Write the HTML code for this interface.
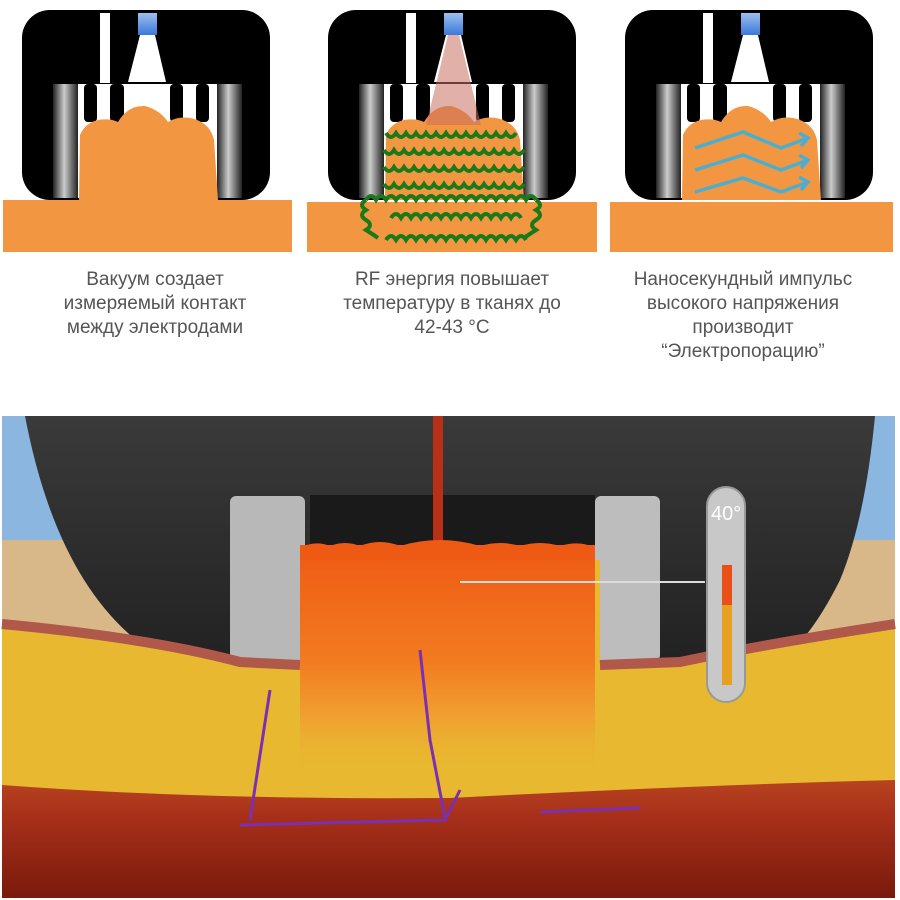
<!DOCTYPE html>
<html><head><meta charset="utf-8"><style>
html,body{margin:0;padding:0;background:#fff;width:900px;height:900px;overflow:hidden}
.cap{position:absolute;width:300px;text-align:center;font-family:"Liberation Sans",sans-serif;font-size:19px;line-height:24px;color:#555}
</style></head><body>
<svg width="900" height="900" style="position:absolute;left:0;top:0">
<defs>
<linearGradient id="el" x1="0" x2="1"><stop offset="0" stop-color="#222"/><stop offset=".45" stop-color="#ccc"/><stop offset="1" stop-color="#222"/></linearGradient>
<linearGradient id="bl" x1="0" y1="0" x2="0" y2="1"><stop offset="0" stop-color="#9cc0f0"/><stop offset="1" stop-color="#3a78d8"/></linearGradient>
<linearGradient id="col" x1="0" y1="0" x2="0" y2="1"><stop offset="0" stop-color="#ee5a14"/><stop offset=".5" stop-color="#f27a20"/><stop offset=".75" stop-color="#f0a030"/><stop offset="1" stop-color="#e8b830" stop-opacity="0"/></linearGradient>
<linearGradient id="mus" x1="0" y1="0" x2="0" y2="1"><stop offset="0" stop-color="#b84420"/><stop offset=".3" stop-color="#a8301a"/><stop offset="1" stop-color="#7a1a0c"/></linearGradient>
<linearGradient id="dark" x1="0" y1="0" x2="0" y2="1"><stop offset="0" stop-color="#3a3a3a"/><stop offset="1" stop-color="#222"/></linearGradient>
<g id="dev">
<rect x="22" y="10" width="248" height="190" rx="28" fill="#000"/>
<rect x="100" y="13" width="10" height="70" fill="#fff"/>
<rect x="138" y="13" width="19" height="22" fill="url(#bl)"/>
<polygon points="140,35 155,35 166,82 128,82" fill="#fff"/>
<rect x="78" y="84" width="140" height="114" fill="#fff"/>
<rect x="53" y="84" width="25" height="114" fill="url(#el)"/>
<rect x="217" y="84" width="25" height="114" fill="url(#el)"/>
<rect x="84" y="84" width="13" height="38" rx="4" fill="#000"/>
<rect x="110" y="84" width="14" height="38" rx="4" fill="#000"/>
<rect x="170" y="84" width="13" height="38" rx="4" fill="#000"/>
<rect x="196" y="84" width="13" height="38" rx="4" fill="#000"/>
</g>
<path id="bump" d="M79,200 L80,135 Q85,123 98,120 Q110,118 118,122 Q128,105 145,106 Q160,110 168,122 Q178,116 190,118 Q210,122 214,140 L218,200 Z" fill="#f39642"/>
</defs>
<use href="#dev"/>
<rect x="3" y="200" width="289" height="52" fill="#f39642"/>
<use href="#bump"/>
<g transform="translate(306,0)">
<use href="#dev"/>
<rect x="1" y="202" width="290" height="50" fill="#f39642"/>
<use href="#bump"/>
<polygon points="142,35 153,35 175,125 120,125" fill="#c87060" opacity=".55"/>
<g fill="none" stroke="#1a7a1a" stroke-width="4">
<path d="M80,133 q5,8 10,0 q5,8 10,0 q5,8 10,0 q5,8 10,0 q5,8 10,0 q5,8 10,0 q5,8 10,0 q5,8 10,0 q5,8 10,0 q5,8 10,0 q5,8 10,0 q5,8 10,0 q5,8 10,0"/>
<path d="M78,150 q5,8 10,0 q5,8 10,0 q5,8 10,0 q5,8 10,0 q5,8 10,0 q5,8 10,0 q5,8 10,0 q5,8 10,0 q5,8 10,0 q5,8 10,0 q5,8 10,0 q5,8 10,0 q5,8 10,0 q5,8 10,0"/>
<path d="M78,167 q5,8 10,0 q5,8 10,0 q5,8 10,0 q5,8 10,0 q5,8 10,0 q5,8 10,0 q5,8 10,0 q5,8 10,0 q5,8 10,0 q5,8 10,0 q5,8 10,0 q5,8 10,0 q5,8 10,0 q5,8 10,0"/>
<path d="M78,184 q5,8 10,0 q5,8 10,0 q5,8 10,0 q5,8 10,0 q5,8 10,0 q5,8 10,0 q5,8 10,0 q5,8 10,0 q5,8 10,0 q5,8 10,0 q5,8 10,0 q5,8 10,0 q5,8 10,0 q5,8 10,0"/>
<path d="M60,200 q5,-8 10,0 q5,-8 10,0 q5,-8 10,0 q5,-8 10,0 q5,-8 10,0 q5,-8 10,0 q5,-8 10,0 q5,-8 10,0 q5,-8 10,0 q5,-8 10,0 q5,-8 10,0 q5,-8 10,0 q5,-8 10,0 q5,-8 10,0 q5,-8 10,0 q5,-8 10,0 q5,-8 10,0"/>
<path d="M85,218 q5,-8 10,0 q5,-8 10,0 q5,-8 10,0 q5,-8 10,0 q5,-8 10,0 q5,-8 10,0 q5,-8 10,0 q5,-8 10,0 q5,-8 10,0 q5,-8 10,0 q5,-8 10,0 q5,-8 10,0 q5,-8 10,0"/>
<path d="M80,240 q5,-8 10,0 q5,-8 10,0 q5,-8 10,0 q5,-8 10,0 q5,-8 10,0 q5,-8 10,0 q5,-8 10,0 q5,-8 10,0 q5,-8 10,0 q5,-8 10,0 q5,-8 10,0 q5,-8 10,0 q5,-8 10,0 q5,-8 10,0"/>
<path d="M60,200 q-8,5 0,10 q-8,5 0,10 q8,5 0,10 q8,5 12,8"/>
<path d="M230,200 q8,5 0,10 q8,5 0,10 q-8,5 0,10 q-8,5 -12,8"/>
</g>
</g>
<g transform="translate(603,0)">
<use href="#dev"/>
<rect x="7" y="202" width="283" height="50" fill="#f39642"/>
<use href="#bump"/>
<g fill="none" stroke="#4aaed0" stroke-width="3.5">
<path d="M92,148 L140,132 L178,148 L205,138"/><path d="M196,133 L205,138 L198,146"/>
<path d="M92,170 L140,155 L178,170 L205,160"/><path d="M196,155 L205,160 L198,168"/>
<path d="M92,192 L140,178 L178,192 L205,182"/><path d="M196,177 L205,182 L198,190"/>
</g>
</g>
<!-- bottom illustration -->
<rect x="2" y="416" width="893" height="482" fill="#8ab6e0"/>
<rect x="2" y="540" width="893" height="120" fill="#d8b888"/>
<path d="M25,416 L875,416 Q865,520 840,580 Q810,640 780,660 L165,660 Q60,600 25,416Z" fill="url(#dark)"/>
<rect x="230" y="496" width="75" height="165" rx="6" fill="#b8b8b8"/>
<rect x="595" y="496" width="65" height="165" rx="6" fill="#bdbdbd"/>
<rect x="310" y="495" width="285" height="52" fill="#1a1a1a"/>
<rect x="433" y="416" width="10" height="130" fill="#b83018"/>
<path d="M2,628 Q150,640 230,662 L300,668 L300,560 L600,560 L600,668 L680,665 Q760,650 895,628 L895,898 L2,898Z" fill="#e8b830"/>
<path d="M2,624 Q150,638 240,662 L300,665 M600,665 L680,662 Q760,645 895,624" stroke="#b0584a" stroke-width="10" fill="none"/>
<rect x="300" y="545" width="295" height="230" fill="url(#col)"/>
<path d="M300,548 Q315,540 330,546 Q345,540 360,546 Q380,538 400,546 Q420,540 440,540 Q460,540 480,546 Q500,540 520,546 Q540,540 560,546 Q580,540 595,548 L595,560 L300,560Z" fill="#ee5a14"/>
<path d="M2,785 Q200,800 450,798 Q700,785 895,780 L895,898 L2,898Z" fill="url(#mus)"/>
<path d="M240,825 L445,820 L460,790 M445,818 L430,740 L420,650 M540,812 L640,808 M270,690 L250,820" stroke="#7a30b0" stroke-width="3" fill="none"/>
<line x1="460" y1="582" x2="705" y2="582" stroke="#ddd" stroke-width="2"/>
<rect x="707" y="487" width="38" height="215" rx="19" fill="#c8c8c8" stroke="#999" stroke-width="2"/>
<rect x="722" y="565" width="10" height="120" fill="#e8a020"/>
<rect x="722" y="565" width="10" height="40" fill="#e85018"/>
<text x="711" y="520" font-family="Liberation Sans,sans-serif" font-size="20" fill="#fff">40°</text>
</svg>
<div class="cap" style="left:5px;top:268px">Вакуум создает<br>измеряемый контакт<br>между электродами</div>
<div class="cap" style="left:302px;top:268px">RF энергия повышает<br>температуру в тканях до<br>42-43 °C</div>
<div class="cap" style="left:593px;top:268px">Наносекундный импульс<br>высокого напряжения<br>производит<br>“Электропорацию”</div>
</body></html>
